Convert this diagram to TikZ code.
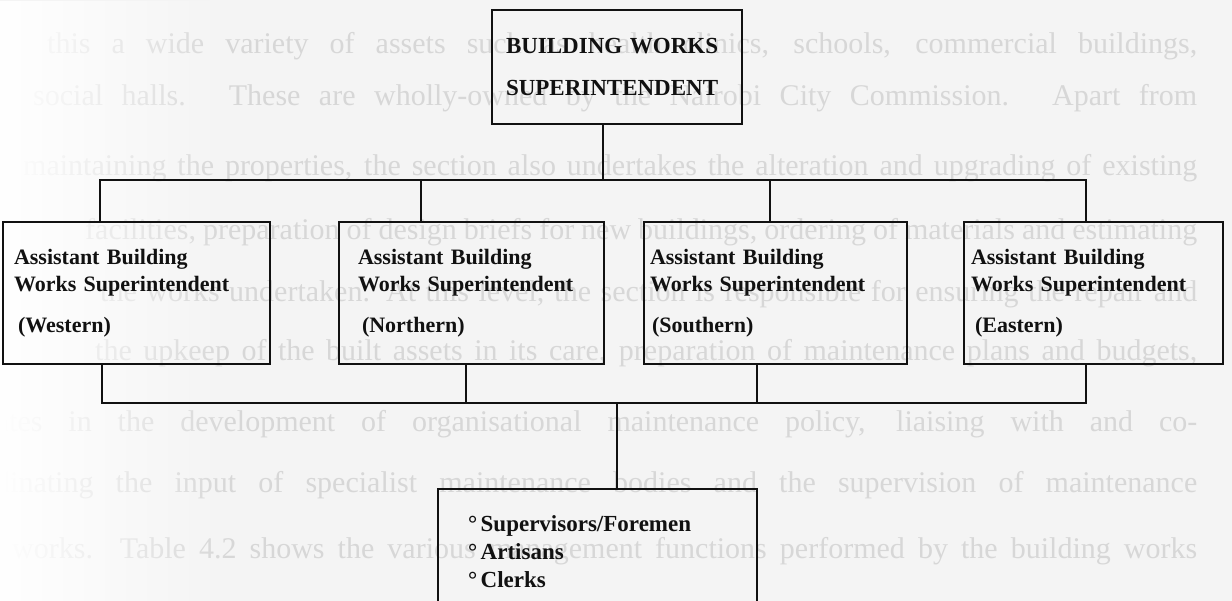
\documentclass[tikz,border=0pt]{standalone}
\usepackage{fontspec}
\setmainfont{Liberation Serif}
\usetikzlibrary{fadings}
\definecolor{paper}{HTML}{F4F4F4}
\definecolor{ghost}{HTML}{D7D7D7}
\definecolor{ink}{HTML}{111111}

\begin{document}
\begin{tikzpicture}[x=1pt,y=-1pt,
  frame/.style={draw=ink, line width=2pt, rectangle, text=ink, align=left,
    inner ysep=0pt, font=\bfseries\fontsize{22}{27}\selectfont},
  officebox/.style={frame, minimum height=142},
  link/.style={draw=ink, line width=2pt},
  ghostrow/.style={anchor=base west, inner sep=0pt, text=ghost,
    font=\fontsize{30}{30}\selectfont}
]
\useasboundingbox (0,0) rectangle (1232,601);
\clip (0,0) rectangle (1232,601);
\fill[paper] (0,0) rectangle (1232,601);

% faint justified paragraph printed underneath the chart
\node[ghostrow] (g1) at (47,54)  {\makebox[1150pt][s]{this a wide variety of assets such as health clinics, schools, commercial buildings,}};
\node[ghostrow] (g2) at (33,106) {\makebox[1164pt][s]{social halls.  These are wholly-owned by the Nairobi City Commission.  Apart from}};
\node[ghostrow] (g3) at (23,176) {\makebox[1174pt][s]{maintaining the properties, the section also undertakes the alteration and upgrading of existing}};
\node[ghostrow] (g4) at (85,240) {\makebox[1112pt][s]{facilities, preparation of design briefs for new buildings, ordering of materials and estimating}};
\node[ghostrow] (g5) at (100,302) {\makebox[1097pt][s]{the works undertaken.  At this level, the section is responsible for ensuring the repair and}};
\node[ghostrow] (g6) at (95,361) {\makebox[1102pt][s]{the upkeep of the built assets in its care, preparation of maintenance plans and budgets,}};
\node[ghostrow] (g7) at (-96,432) {\makebox[1293pt][s]{participates in the development of organisational maintenance policy, liaising with and co-}};
\node[ghostrow] (g8) at (-30,492) {\makebox[1227pt][s]{ordinating the input of specialist maintenance bodies and the supervision of maintenance}};
\node[ghostrow] (g9) at (12,558) {\makebox[1185pt][s]{works.  Table 4.2 shows the various management functions performed by the building works}};
\fill[white, path fading=east] (0,0) rectangle (230,601);

% head of section
\node[frame, minimum width=250, minimum height=114, text width=222,
  inner xsep=14pt, font=\bfseries\fontsize{23}{42}\selectfont]
  (top) at (617,67) {BUILDING WORKS\\SUPERINTENDENT};

% regional assistants
\node[officebox, text width=245, inner xsep=11pt] (west) at (136.5,293)
  {Assistant Building\\Works Superintendent\\[14pt]\hspace*{4pt}(Western)};
\node[officebox, text width=227, inner xsep=19pt] (north) at (471.5,293)
  {Assistant Building\\Works Superintendent\\[14pt]\hspace*{4pt}(Northern)};
\node[officebox, text width=251, inner xsep=6pt] (south) at (775.5,293)
  {Assistant Building\\Works Superintendent\\[14pt]\hspace*{2pt}(Southern)};
\node[officebox, text width=245, inner xsep=7pt] (east) at (1093.5,293)
  {Assistant Building\\Works Superintendent\\[14pt]\hspace*{4pt}(Eastern)};

% site staff
\node[frame, minimum height=125, text width=255, inner xsep=32pt,
  font=\bfseries\fontsize{23}{28}\selectfont]
  (staff) at (597.5,551.5)
  {\hspace*{-2pt}°\hspace{3.5pt}Supervisors/Foremen\\
   \hspace*{-2pt}°\hspace{3.5pt}Artisans\\
   \hspace*{-2pt}°\hspace{3.5pt}Clerks};

% upper distribution line
\coordinate (tj) at (603,180);
\coordinate (t1) at (100,180);
\coordinate (t2) at (421,180);
\coordinate (t3) at (770,180);
\coordinate (t4) at (1086,180);
\draw[link] (top.south -| tj) -- (tj);
\draw[link] (t1 |- west.north) -- (t1) -- (t4) -- (t4 |- east.north);
\draw[link] (t2) -- (t2 |- north.north);
\draw[link] (t3) -- (t3 |- south.north);

% lower collecting line
\coordinate (bj) at (617,403);
\coordinate (b1) at (102,403);
\coordinate (b2) at (466,403);
\coordinate (b3) at (757,403);
\coordinate (b4) at (1086,403);
\draw[link] (b1 |- west.south) -- (b1) -- (b4) -- (b4 |- east.south);
\draw[link] (b2 |- north.south) -- (b2);
\draw[link] (b3 |- south.south) -- (b3);
\draw[link] (bj) -- (bj |- staff.north);
\end{tikzpicture}
\end{document}
